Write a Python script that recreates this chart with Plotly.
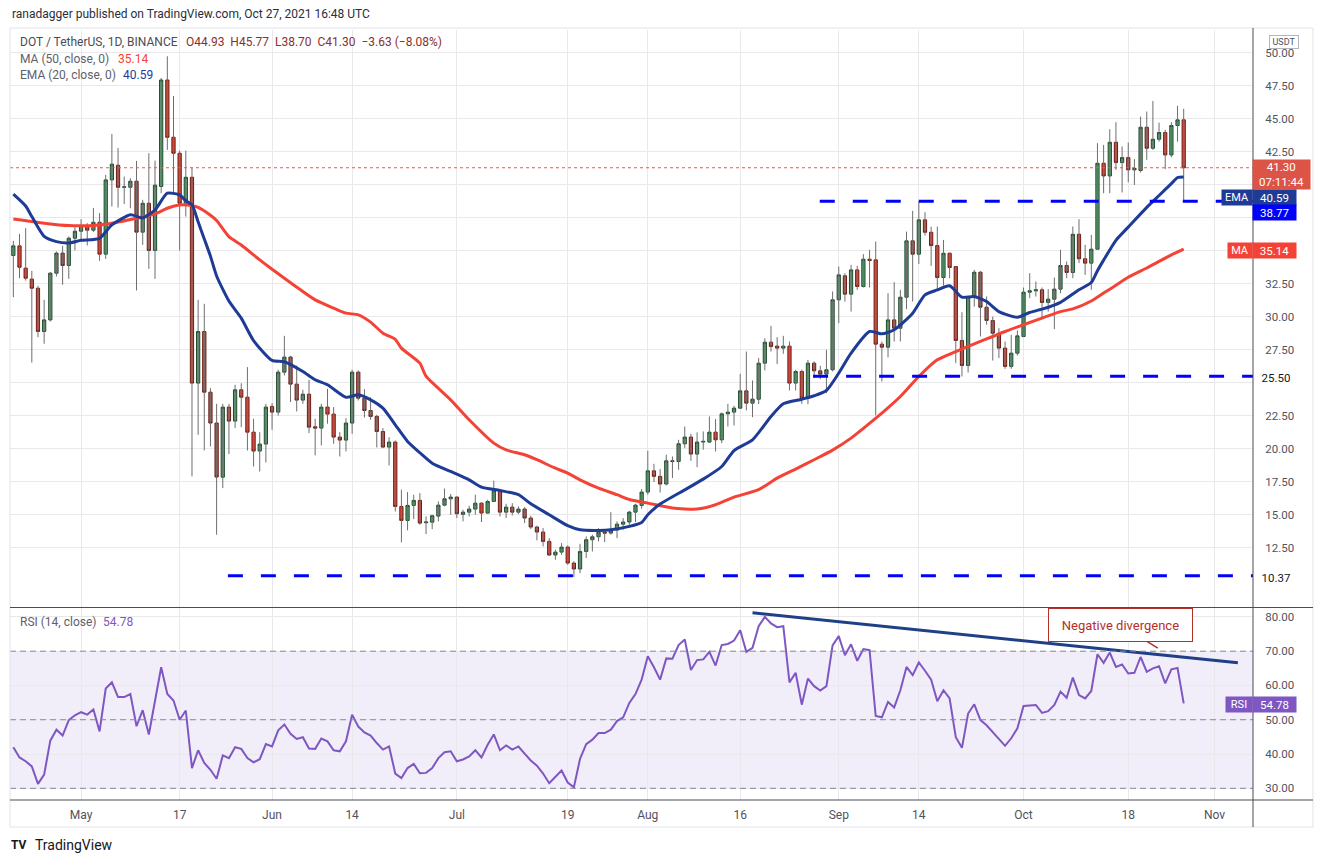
import pandas as pd
import plotly.graph_objects as go

# DOT / USDT daily candles, 2021-04-20 .. 2021-10-27
start_date = "2021-04-20"
opens = [
    34.65, 35.38, 33.69, 32.86, 32.17, 28.89, 29.77, 33.31, 34.83, 33.89,
    35.96, 36.49, 36.87, 36.57, 37.17, 34.75, 40.38, 41.49, 39.82, 39.82,
    40.28, 36.42, 38.61, 35.03, 39.88, 47.95, 43.61, 42.40, 38.61, 40.58,
    24.98, 28.89, 24.29, 21.95, 17.85, 23.16, 22.10, 24.47, 23.91, 21.26,
    19.83, 20.36, 23.21, 22.78, 25.81, 26.95, 24.90, 23.69, 24.14, 21.67,
    21.57, 23.16, 22.63, 20.89, 20.66, 21.95, 25.81, 23.84, 22.90, 22.45,
    21.31, 20.13, 20.51, 15.63, 14.57, 15.71, 16.09, 14.40, 14.44, 14.90,
    15.73, 16.21, 16.34, 15.03, 15.20, 15.43, 15.88, 15.13, 16.01, 16.82,
    15.20, 15.58, 15.20, 15.43, 14.75, 14.07, 13.69, 12.98, 11.95, 12.17,
    12.55, 11.34, 10.89, 12.22, 13.11, 13.33, 13.69, 13.61, 13.84, 14.29,
    14.45, 15.20, 15.71, 16.72, 18.33, 17.91, 17.33, 19.09, 19.04, 20.38,
    20.89, 19.60, 20.51, 20.51, 21.26, 20.68, 22.65, 22.78, 23.08, 24.39,
    23.46, 23.76, 26.49, 28.08, 27.78, 27.63, 27.78, 24.98, 25.86, 23.84,
    26.49, 25.91, 25.66, 25.99, 31.29, 33.11, 31.72, 33.56, 32.30, 34.37,
    34.32, 27.93, 27.70, 29.77, 29.14, 31.49, 35.76, 34.75, 37.35, 36.41,
    35.40, 32.98, 34.82, 33.81, 28.21, 26.31, 31.54, 33.38, 30.73, 29.72,
    28.76, 27.63, 26.24, 27.25, 28.51, 31.87, 31.97, 32.05, 31.09, 31.34,
    32.10, 33.89, 33.36, 36.26, 34.40, 34.07, 35.13, 41.64, 40.68, 43.23,
    41.69, 42.07, 41.14, 41.09, 44.37, 42.78, 43.46, 43.97, 42.27, 44.50,
    44.93,
]
highs = [
    35.76, 36.29, 36.72, 33.49, 32.35, 31.29, 33.39, 34.95, 35.38, 36.09,
    36.85, 37.40, 37.10, 38.26, 37.86, 40.76, 43.86, 42.80, 40.63, 40.51,
    41.82, 38.87, 42.40, 41.84, 48.10, 49.75, 46.74, 42.60, 42.60, 41.34,
    31.29, 30.99, 24.60, 23.41, 23.41, 23.41, 24.85, 24.97, 26.19, 22.27,
    21.26, 23.41, 23.46, 25.99, 28.56, 27.05, 26.31, 24.47, 25.23, 22.27,
    23.41, 24.55, 23.16, 21.26, 22.32, 25.99, 25.94, 24.52, 23.91, 22.58,
    21.57, 20.88, 20.63, 16.90, 16.72, 16.52, 16.64, 14.88, 15.00, 16.01,
    16.99, 16.57, 16.39, 15.38, 15.68, 16.52, 15.94, 16.14, 17.58, 16.89,
    15.83, 15.88, 15.63, 15.58, 14.93, 14.17, 13.99, 13.23, 12.35, 12.85,
    12.68, 11.47, 12.80, 13.36, 13.49, 13.99, 13.91, 15.20, 14.50, 14.75,
    15.30, 15.83, 16.95, 19.85, 18.86, 18.46, 19.55, 19.42, 20.68, 21.69,
    21.14, 21.24, 21.32, 22.45, 22.25, 22.75, 23.41, 23.26, 25.68, 27.37,
    25.18, 26.87, 28.38, 29.32, 28.46, 28.56, 28.13, 25.99, 25.99, 26.74,
    26.62, 26.29, 27.50, 31.92, 33.81, 33.31, 33.94, 33.86, 34.75, 35.08,
    35.71, 28.13, 31.79, 32.63, 32.05, 36.46, 38.03, 38.74, 37.93, 36.84,
    36.84, 35.83, 34.87, 33.86, 30.35, 31.59, 33.56, 33.48, 31.54, 30.02,
    29.14, 28.13, 28.64, 28.96, 32.22, 33.31, 32.68, 32.22, 32.10, 32.98,
    35.08, 34.19, 36.85, 37.40, 35.46, 36.21, 43.16, 43.03, 44.22, 44.75,
    42.91, 43.21, 41.95, 45.18, 45.56, 46.36, 44.72, 44.17, 44.75, 45.99,
    45.77,
]
lows = [
    31.49, 32.93, 32.75, 26.54, 28.46, 27.96, 29.65, 33.06, 32.43, 32.88,
    35.03, 35.71, 35.41, 36.42, 34.24, 34.39, 38.36, 38.28, 38.56, 38.23,
    32.00, 35.46, 33.64, 32.88, 39.37, 42.65, 39.24, 35.03, 37.60, 17.91,
    21.06, 19.88, 20.18, 13.49, 17.02, 19.60, 21.57, 21.64, 19.87, 18.66,
    18.28, 18.97, 21.44, 22.52, 25.56, 23.54, 22.83, 23.41, 21.19, 19.50,
    20.25, 21.90, 20.38, 19.42, 19.80, 21.14, 23.66, 22.37, 22.20, 20.10,
    20.05, 18.74, 15.25, 12.91, 13.82, 14.67, 14.24, 13.54, 13.91, 14.50,
    15.63, 15.00, 14.75, 14.50, 14.87, 15.00, 14.45, 15.08, 15.96, 14.87,
    14.75, 14.95, 15.05, 14.37, 13.91, 13.06, 12.60, 11.89, 11.59, 11.97,
    11.21, 10.28, 10.58, 11.72, 12.22, 12.98, 12.93, 13.49, 13.23, 13.86,
    14.24, 14.45, 15.46, 16.52, 17.48, 16.69, 17.23, 17.78, 18.41, 20.05,
    19.09, 18.61, 19.93, 20.43, 19.80, 20.43, 21.69, 21.77, 23.03, 22.91,
    22.40, 23.38, 25.94, 27.37, 26.42, 27.20, 24.42, 24.42, 23.41, 23.38,
    25.35, 25.28, 24.22, 25.86, 29.52, 31.16, 30.40, 32.05, 32.22, 32.22,
    22.53, 25.10, 26.92, 28.13, 28.13, 30.58, 31.16, 34.01, 36.16, 33.86,
    32.12, 32.37, 32.93, 26.49, 25.48, 25.78, 30.78, 28.51, 29.40, 26.69,
    26.87, 26.06, 26.06, 27.07, 28.46, 31.41, 31.54, 29.98, 30.40, 29.07,
    31.79, 32.93, 32.93, 34.07, 33.18, 32.05, 35.08, 39.37, 39.37, 41.14,
    39.42, 40.20, 40.00, 40.94, 41.90, 42.65, 43.28, 41.19, 42.10, 43.28,
    38.70,
]
closes = [
    35.38, 33.76, 32.93, 32.17, 28.89, 29.77, 33.31, 34.83, 33.89, 35.96,
    36.49, 36.92, 36.57, 37.17, 34.75, 40.38, 41.57, 39.82, 39.85, 40.28,
    36.42, 38.61, 35.03, 39.98, 47.95, 43.61, 42.40, 38.61, 40.58, 24.98,
    28.89, 24.29, 21.95, 17.86, 23.16, 22.10, 24.47, 23.91, 21.26, 19.83,
    20.36, 23.16, 22.78, 25.81, 26.95, 24.90, 23.69, 24.14, 21.64, 21.57,
    23.16, 22.63, 20.89, 20.66, 21.95, 25.81, 23.84, 22.90, 22.45, 21.31,
    20.13, 20.51, 15.63, 14.57, 15.71, 16.09, 14.37, 14.45, 14.93, 15.73,
    16.21, 16.34, 15.08, 15.20, 15.43, 15.88, 15.13, 16.01, 16.82, 15.20,
    15.58, 15.20, 15.43, 14.75, 14.07, 13.69, 12.98, 11.95, 12.17, 12.55,
    11.34, 10.89, 12.22, 13.11, 13.33, 13.69, 13.61, 13.84, 14.29, 14.45,
    15.20, 15.73, 16.72, 18.33, 17.91, 17.33, 19.09, 19.04, 20.38, 20.89,
    19.60, 20.51, 20.56, 21.26, 20.68, 22.65, 22.78, 23.08, 24.39, 23.46,
    23.76, 26.49, 28.08, 27.75, 27.63, 27.78, 24.98, 25.86, 23.84, 26.49,
    25.91, 25.66, 25.99, 31.29, 33.18, 31.72, 33.56, 32.30, 34.37, 34.27,
    27.93, 27.70, 29.77, 29.14, 31.49, 35.76, 34.75, 37.35, 36.41, 35.40,
    32.98, 34.82, 33.74, 28.21, 26.31, 31.54, 33.38, 30.73, 29.72, 28.76,
    27.63, 26.24, 27.25, 28.56, 31.87, 31.97, 32.05, 31.09, 31.34, 32.10,
    33.89, 33.36, 36.26, 34.40, 34.07, 35.13, 41.64, 40.68, 43.23, 41.69,
    42.07, 41.14, 41.26, 44.37, 42.78, 43.46, 43.97, 42.27, 44.50, 44.93,
    41.30,
]

# RSI(14) as drawn in the lower pane
rsi_values = [
    42.0, 39.0, 37.9, 36.4, 31.3, 34.0, 43.9, 47.1, 45.4, 49.9,
    51.3, 52.2, 51.5, 53.0, 46.6, 59.1, 60.9, 56.6, 56.6, 57.5,
    48.1, 52.8, 45.7, 55.4, 65.3, 57.5, 55.6, 50.0, 52.7, 35.9,
    41.1, 37.4, 35.4, 32.8, 39.6, 38.8, 42.0, 41.5, 38.8, 37.6,
    38.5, 42.9, 42.2, 46.9, 48.6, 45.9, 44.4, 44.9, 41.6, 41.5,
    44.5, 43.7, 41.1, 40.8, 43.7, 51.5, 48.0, 46.3, 45.4, 43.2,
    41.3, 42.2, 34.3, 33.0, 35.9, 37.1, 34.4, 34.5, 35.9, 38.8,
    40.5, 40.8, 37.9, 38.4, 39.3, 41.1, 39.0, 42.7, 45.7, 41.1,
    42.5, 41.3, 42.2, 40.1, 38.1, 36.6, 34.3, 31.5, 33.3, 35.2,
    31.7, 30.3, 38.6, 42.9, 44.2, 46.1, 46.1, 47.1, 49.6, 50.7,
    54.9, 57.5, 61.7, 68.5, 65.3, 61.7, 67.9, 67.8, 71.8, 73.4,
    64.5, 67.4, 67.6, 69.8, 65.8, 71.8, 72.1, 73.1, 76.1, 69.8,
    71.0, 77.3, 80.0, 78.1, 77.0, 77.3, 60.9, 63.7, 54.4, 62.0,
    59.8, 58.5, 59.8, 71.7, 74.4, 68.8, 72.0, 67.2, 70.6, 70.3,
    51.1, 50.7, 55.2, 53.6, 58.6, 65.4, 63.0, 66.7, 64.3, 61.7,
    55.4, 58.6, 56.2, 44.9, 41.8, 51.8, 54.5, 49.9, 48.4, 46.5,
    44.6, 42.4, 44.6, 47.5, 54.0, 54.1, 54.3, 52.0, 52.5, 54.3,
    58.2, 56.4, 62.3, 57.2, 56.2, 58.4, 69.1, 66.6, 69.6, 65.4,
    66.1, 63.5, 63.7, 68.3, 64.0, 65.0, 65.6, 60.6, 64.7, 65.1,
    54.78,
]

# EMA(20) line, read at points along the curve
ema_dates = [
    "2021-04-20", "2021-04-22", "2021-04-23", "2021-04-25", "2021-04-27", "2021-04-29",
    "2021-05-01", "2021-05-04", "2021-05-06", "2021-05-09", "2021-05-11", "2021-05-13",
    "2021-05-15", "2021-05-17", "2021-05-18", "2021-05-19", "2021-05-20", "2021-05-21",
    "2021-05-22", "2021-05-23", "2021-05-25", "2021-05-27", "2021-05-29", "2021-06-01",
    "2021-06-03", "2021-06-06", "2021-06-08", "2021-06-10", "2021-06-13", "2021-06-15",
    "2021-06-17", "2021-06-19", "2021-06-21", "2021-06-23", "2021-06-25", "2021-06-27",
    "2021-06-30", "2021-07-03", "2021-07-05", "2021-07-08", "2021-07-11", "2021-07-13",
    "2021-07-16", "2021-07-19", "2021-07-21", "2021-07-24", "2021-07-26", "2021-07-29",
    "2021-07-31", "2021-08-01", "2021-08-03", "2021-08-07", "2021-08-10", "2021-08-13",
    "2021-08-15", "2021-08-18", "2021-08-21", "2021-08-23", "2021-08-26", "2021-08-28",
    "2021-08-30", "2021-09-01", "2021-09-03", "2021-09-06", "2021-09-08", "2021-09-10",
    "2021-09-13", "2021-09-15", "2021-09-17", "2021-09-19", "2021-09-21", "2021-09-23",
    "2021-09-25", "2021-09-27", "2021-09-30", "2021-10-02", "2021-10-04", "2021-10-07",
    "2021-10-10", "2021-10-12", "2021-10-13", "2021-10-14", "2021-10-16", "2021-10-18",
    "2021-10-21", "2021-10-23", "2021-10-25", "2021-10-26", "2021-10-27",
]
ema_values = [
    39.3, 38.4, 37.6, 36.1, 35.7, 35.6,
    35.8, 35.95, 36.97, 37.73, 37.5, 38.1,
    39.37, 39.24, 38.8, 38.5, 37.2, 35.9,
    34.6, 33.1, 31.2, 29.9, 28.2, 26.7,
    26.6, 25.86, 25.23, 24.85, 23.9, 24.09,
    23.71, 23.08, 21.82, 20.56, 19.7, 18.91,
    18.28, 17.65, 17.1, 16.84, 16.52, 15.83,
    15.0, 14.17, 13.86, 13.81, 13.86, 14.12,
    14.42, 15.0, 15.81, 16.89, 17.7, 18.66,
    19.87, 20.68, 22.45, 23.41, 23.76, 24.02,
    24.42, 25.73, 27.25, 28.89, 28.71, 29.02,
    30.28, 31.67, 32.04, 32.35, 31.49, 31.54,
    31.16, 30.4, 29.97, 30.33, 30.58, 31.1,
    32.05, 32.6, 33.5, 34.3, 35.8, 36.8,
    38.3, 39.2, 40.1, 40.55, 40.59,
]

# MA(50) line, read at points along the curve
ma_dates = [
    "2021-04-20", "2021-04-25", "2021-04-29", "2021-05-04", "2021-05-06", "2021-05-10",
    "2021-05-13", "2021-05-15", "2021-05-17", "2021-05-19", "2021-05-20", "2021-05-22",
    "2021-05-23", "2021-05-25", "2021-05-27", "2021-05-30", "2021-06-01", "2021-06-03",
    "2021-06-06", "2021-06-08", "2021-06-11", "2021-06-13", "2021-06-15", "2021-06-17",
    "2021-06-19", "2021-06-21", "2021-06-22", "2021-06-25", "2021-06-26", "2021-06-30",
    "2021-07-03", "2021-07-07", "2021-07-09", "2021-07-12", "2021-07-14", "2021-07-17",
    "2021-07-19", "2021-07-21", "2021-07-24", "2021-07-27", "2021-07-29", "2021-08-01",
    "2021-08-05", "2021-08-09", "2021-08-12", "2021-08-15", "2021-08-19", "2021-08-22",
    "2021-08-25", "2021-08-28", "2021-08-31", "2021-09-03", "2021-09-05", "2021-09-08",
    "2021-09-11", "2021-09-14", "2021-09-17", "2021-09-20", "2021-09-23", "2021-09-26",
    "2021-09-28", "2021-10-01", "2021-10-04", "2021-10-07", "2021-10-09", "2021-10-12",
    "2021-10-14", "2021-10-16", "2021-10-18", "2021-10-21", "2021-10-23", "2021-10-25",
    "2021-10-27",
]
ma_values = [
    37.42, 37.1, 36.92, 36.97, 37.1, 37.47,
    37.8, 38.23, 38.48, 38.43, 38.3, 37.7,
    37.3, 36.08, 35.45, 34.32, 33.61, 32.93,
    31.92, 31.29, 30.66, 30.28, 30.15, 29.6,
    28.76, 28.3, 27.63, 26.49, 25.5, 23.71,
    22.2, 20.43, 19.92, 19.55, 19.17, 18.53,
    18.16, 17.65, 17.02, 16.52, 16.16, 15.88,
    15.51, 15.43, 15.76, 16.34, 16.9, 17.78,
    18.46, 19.17, 19.9, 20.81, 21.55, 22.7,
    23.96, 25.48, 26.74, 27.37, 27.96, 28.51,
    28.89, 29.4, 29.9, 30.4, 30.6, 31.2,
    31.8, 32.4, 33.0, 33.7, 34.2, 34.7,
    35.14,
]

# horizontal support / resistance lines (blue dashed)
level_values = [38.77, 25.50, 10.37]
level_starts = ["2021-08-28 22:00", "2021-08-27 20:00", "2021-05-24 20:00"]

# RSI trendline
trend_dates = ["2021-08-18", "2021-11-04 19:00"]
trend_rsi = [81.2, 66.6]

tick_dates = ["2021-05-01", "2021-05-17", "2021-06-01", "2021-06-14", "2021-07-01",
              "2021-07-19", "2021-08-01", "2021-08-16", "2021-09-01", "2021-09-14",
              "2021-10-01", "2021-10-18", "2021-11-01"]
tick_labels = ["May", "17", "Jun", "14", "Jul", "19", "Aug", "16", "Sep", "14",
               "Oct", "18", "Nov"]
price_ticks = [12.5, 15, 17.5, 20, 22.5, 25, 27.5, 30, 32.5, 35, 37.5, 40, 42.5,
               45, 47.5, 50]
# labels hidden behind the price tags on the axis
hidden_price_labels = [25, 35, 37.5, 40]
rsi_ticks = [30, 40, 50, 60, 70, 80]

x_start = "2021-04-19 11:00"
x_end = "2021-11-07 06:00"

GREEN = "#5f9f74"
GREEN_EDGE = "#1d4d2b"
RED = "#d64a3b"
RED_EDGE = "#6b1d16"
WICK = "#6e6e6e"
EMA_COLOR = "#1e3b96"
MA_COLOR = "#f44336"
RSI_COLOR = "#7e57c2"
LEVEL_COLOR = "#0000ff"
GRID = "#e9e9ec"
TEXT = "#50535e"
FONT = "Roboto, 'Open Sans', sans-serif"

# plot area in pixels, for placing the TradingView overlays
L, R, T, B = 10, 1253, 30, 800


def px(x):
    return (x - L) / (R - L)


def py(y):
    return (B - y) / (B - T)


dates = pd.date_range(start_date, periods=len(closes), freq="D")

fig = go.Figure()

# wicks (grey)
wx, wy = [], []
for d, h, lo in zip(dates, highs, lows):
    wx += [d, d, None]
    wy += [lo, h, None]
fig.add_trace(go.Scatter(x=wx, y=wy, mode="lines", line=dict(color=WICK, width=1),
                         hoverinfo="skip", xaxis="x", yaxis="y"))

# bodies
body_hi = [max(o, c) for o, c in zip(opens, closes)]
body_lo = [min(o, c) for o, c in zip(opens, closes)]
fig.add_trace(go.Candlestick(
    x=dates, open=opens, high=body_hi, low=body_lo, close=closes,
    increasing=dict(fillcolor=GREEN, line=dict(color=GREEN_EDGE, width=1)),
    decreasing=dict(fillcolor=RED, line=dict(color=RED_EDGE, width=1)),
    whiskerwidth=0, xaxis="x", yaxis="y",
))

fig.add_trace(go.Scatter(x=ma_dates, y=ma_values, mode="lines",
                         line=dict(color=MA_COLOR, width=3, shape="spline", smoothing=0.6),
                         xaxis="x", yaxis="y"))
fig.add_trace(go.Scatter(x=ema_dates, y=ema_values, mode="lines",
                         line=dict(color=EMA_COLOR, width=3, shape="spline", smoothing=0.6),
                         xaxis="x", yaxis="y"))

# last price dotted line
fig.add_trace(go.Scatter(x=[x_start, x_end], y=[closes[-1], closes[-1]], mode="lines",
                         line=dict(color="#ef5350", width=1, dash="dot"),
                         xaxis="x", yaxis="y"))

for lv, st in zip(level_values, level_starts):
    fig.add_trace(go.Scatter(x=[st, x_end], y=[lv, lv], mode="lines",
                             line=dict(color=LEVEL_COLOR, width=3, dash="15px,18px"),
                             xaxis="x", yaxis="y"))

# RSI pane
fig.add_trace(go.Scatter(x=dates, y=rsi_values, mode="lines",
                         line=dict(color=RSI_COLOR, width=2),
                         xaxis="x2", yaxis="y2"))
fig.add_trace(go.Scatter(x=trend_dates, y=trend_rsi, mode="lines",
                         line=dict(color="#1f3f86", width=3),
                         xaxis="x2", yaxis="y2"))

shapes = [
    dict(type="rect", xref="paper", yref="y2", x0=0, x1=1, y0=30, y1=70,
         fillcolor="rgba(126,87,194,0.10)", line=dict(width=0), layer="below"),
]
for lvl in [30, 50, 70]:
    shapes.append(dict(type="line", xref="paper", yref="y2", x0=0, x1=1, y0=lvl, y1=lvl,
                       line=dict(color="#868993", width=1, dash="6px,4px")))
# frame
shapes += [
    dict(type="rect", xref="paper", yref="paper", x0=px(10), x1=px(1313),
         y0=py(827), y1=py(28), line=dict(color="#e0e3eb", width=1)),
    dict(type="line", xref="paper", yref="paper", x0=1, x1=1, y0=py(827), y1=py(28),
         line=dict(color="#4a4d55", width=1)),
    dict(type="line", xref="paper", yref="paper", x0=px(10), x1=px(1313),
         y0=py(607.5), y1=py(607.5), line=dict(color="#4a4d55", width=1)),
    dict(type="line", xref="paper", yref="paper", x0=px(10), x1=px(1313),
         y0=py(800), y1=py(800), line=dict(color="#4a4d55", width=1)),
]

chg = closes[-1] - closes[-2]
pct = chg / closes[-2] * 100
ann = []


def txt(x, y, text, color=TEXT, size=12, anchor="left"):
    ann.append(dict(x=px(x), y=py(y), xref="paper", yref="paper", text=text,
                    showarrow=False, xanchor=anchor, yanchor="middle",
                    font=dict(family=FONT, size=size, color=color)))


def box(x0, x1, y, text, bg, h=15, size=11, color="white"):
    ann.append(dict(x=px((x0 + x1) / 2), y=py(y), xref="paper", yref="paper", text=text,
                    showarrow=False, xanchor="center", yanchor="middle",
                    width=x1 - x0, height=h, bgcolor=bg, borderpad=0,
                    font=dict(family=FONT, size=size, color=color)))


def signed(v):
    return ("−%.2f" % abs(v)) if v < 0 else "+%.2f" % v


txt(10, 14, "ranadagger published on TradingView.com, Oct 27, 2021 16:48 UTC", "#2a2e39", 12)
txt(18, 42, "DOT / TetherUS, 1D, BINANCE", "#4a4d55", 12)
txt(184, 42, "O%.2f  H%.2f  L%.2f  C%.2f  %s (%s%%)" % (
    opens[-1], highs[-1], lows[-1], closes[-1], signed(chg), signed(pct)), "#8a2f2a", 12)
txt(18, 59, "MA (50, close, 0)", "#5d606b", 12)
txt(116, 59, "%.2f" % ma_values[-1], MA_COLOR, 12)
txt(18, 75, "EMA (20, close, 0)", "#5d606b", 12)
txt(121, 75, "%.2f" % ema_values[-1], EMA_COLOR, 12)
txt(18, 622, "RSI (14, close)", "#5d606b", 12)
txt(101, 622, "%.2f" % rsi_values[-1], RSI_COLOR, 12)

# right axis tags
ann.append(dict(x=px(1284), y=py(42), xref="paper", yref="paper", text="USDT",
                showarrow=False, xanchor="center", yanchor="middle", width=28, height=12,
                bordercolor="#b2b5be", borderwidth=1, borderpad=0, bgcolor="white",
                font=dict(family=FONT, size=9, color=TEXT)))
box(1253, 1310, 174.5, "%.2f<br>07:11:44" % closes[-1], "#dc5446", h=29, size=11.5)
box(1222, 1252, 198, "EMA", EMA_COLOR)
box(1253, 1296, 198, "%.2f" % ema_values[-1], EMA_COLOR, size=11.5)
box(1253, 1296, 212.5, "%.2f" % level_values[0], LEVEL_COLOR, size=11.5)
box(1228, 1252, 250.5, "MA", MA_COLOR)
box(1253, 1296, 250.5, "%.2f" % ma_values[-1], MA_COLOR, size=11.5)
box(1256, 1296, 377, "%.2f" % level_values[1], "white", size=11.5, color="#131722")
box(1256, 1296, 577, "%.2f" % level_values[2], "white", size=11.5, color="#131722")
box(1226, 1252, 704.5, "RSI", RSI_COLOR)
box(1253, 1296, 704.5, "%.2f" % rsi_values[-1], RSI_COLOR, size=11.5)

# callout
ann.append(dict(x="2021-10-22 19:00", y=70.9, xref="x2", yref="y2",
                text="Negative divergence", showarrow=True, arrowhead=0,
                arrowwidth=1.5, arrowcolor="#b5302a", ax=-37, ay=-23,
                width=133, height=22,
                bgcolor="white", bordercolor="#b5302a", borderwidth=1, borderpad=5,
                font=dict(family=FONT, size=13, color="#b5302a")))

# footer logo
txt(9, 845, "<b>TV</b>", "#131722", 12)
txt(33, 845, "TradingView", "#131722", 14)

price_text = ["" if v in hidden_price_labels else "%.2f" % v for v in price_ticks]

fig.update_layout(
    width=1325, height=862,
    margin=dict(l=L, r=1325 - R, t=T, b=862 - B),
    paper_bgcolor="white", plot_bgcolor="white",
    showlegend=False,
    boxgap=0.25,
    font=dict(family=FONT, size=12, color=TEXT),
    xaxis=dict(domain=[0, 1], anchor="y", range=[x_start, x_end], type="date",
               tickvals=tick_dates, showticklabels=False, showgrid=True,
               gridcolor=GRID, zeroline=False, rangeslider=dict(visible=False),
               showline=False),
    xaxis2=dict(domain=[0, 1], anchor="y2", range=[x_start, x_end], type="date",
                matches="x", tickvals=tick_dates, ticktext=tick_labels,
                showgrid=True, gridcolor=GRID, zeroline=False, ticks="outside",
                ticklen=4, tickcolor="rgba(0,0,0,0)",
                tickfont=dict(family=FONT, size=12, color=TEXT)),
    yaxis=dict(domain=[(B - 607.5) / (B - T) + 0.001, 1], range=[8.03, 51.74],
               side="right", tickvals=price_ticks, ticktext=price_text,
               showgrid=True, gridcolor=GRID, zeroline=False, ticks="outside",
               ticklen=9, tickcolor="rgba(0,0,0,0)",
               tickfont=dict(family=FONT, size=11.5, color=TEXT)),
    yaxis2=dict(domain=[0, (B - 607.5) / (B - T)], range=[26.59, 82.74],
                side="right", tickvals=rsi_ticks, tickformat=".2f",
                showgrid=True, gridcolor=GRID, zeroline=False, ticks="outside",
                ticklen=9, tickcolor="rgba(0,0,0,0)",
                tickfont=dict(family=FONT, size=11.5, color=TEXT)),
    shapes=shapes,
    annotations=ann,
)

# the page's default 8px body margin would push the chart off its spot
fig.write_html("out.html", config={"displayModeBar": False},
               post_script="document.body.style.margin = '0px';")
